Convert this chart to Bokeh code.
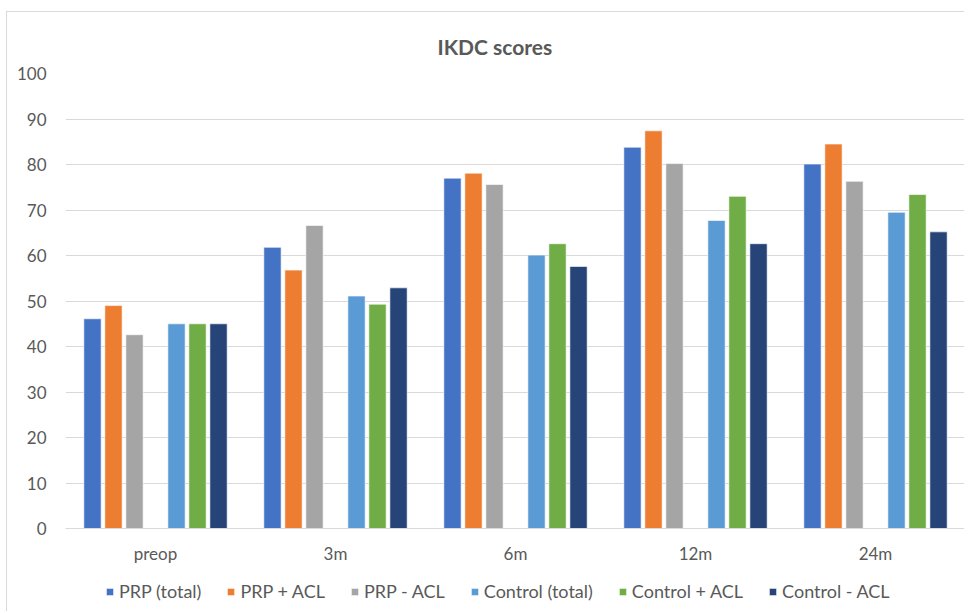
from bokeh.plotting import figure
from bokeh.models import FactorRange, Legend, LegendItem, FixedTicker, ColumnDataSource, Range1d
from bokeh.transform import dodge
from bokeh.embed import file_html
from bokeh.resources import INLINE

categories = ["preop", "3m", "6m", "12m", "24m"]
series_names = ["PRP (total)", "PRP + ACL", "PRP - ACL", "Control (total)", "Control + ACL", "Control - ACL"]
prp_total = [46.1, 61.8, 77.0, 83.8, 80.1]
prp_plus_acl = [49.0, 56.8, 78.1, 87.4, 84.5]
prp_minus_acl = [42.6, 66.6, 75.6, 80.2, 76.3]
control_total = [45.0, 51.1, 60.1, 67.7, 69.5]
control_plus_acl = [45.0, 49.3, 62.6, 73.0, 73.4]
control_minus_acl = [45.0, 52.9, 57.6, 62.6, 65.2]
y_ticks = [0, 10, 20, 30, 40, 50, 60, 70, 80, 90, 100]

colors = ["#4472C4", "#ED7D31", "#A5A5A5", "#5B9BD5", "#70AD47", "#264478"]
series_values = [prp_total, prp_plus_acl, prp_minus_acl, control_total, control_plus_acl, control_minus_acl]
slots = [0, 1, 2, 4, 5, 6]  # slot 3 is an empty gap
slot_w = 0.1167

src = ColumnDataSource(dict(cat=categories, **{f"s{i}": v for i, v in enumerate(series_values)}))

# the frame extends below 0 so that the legend (drawn inside the frame) has room
p = figure(x_range=FactorRange(*categories), y_range=Range1d(-16.9, 100), width=958, height=600,
           output_backend="svg", toolbar_location=None,
           min_border_left=58, min_border_right=0, min_border_top=61, min_border_bottom=7)
p.styles = {"margin-top": "11px", "margin-left": "6px",
            "border-top": "1px solid #d9d9d9", "border-left": "1px solid #d9d9d9"}

items = []
for i, (name, col, slot) in enumerate(zip(series_names, colors, slots)):
    r = p.vbar(x=dodge("cat", (slot - 3) * slot_w, range=p.x_range), top=f"s{i}", bottom=0,
               width=0.096, source=src, fill_color=col, line_color="white", line_width=0.6)
    items.append(LegendItem(label=name, renderers=[r]))

p.title.text = "IKDC scores"
p.title.text_font = "Lato"
p.title.text_font_style = "bold"
p.title.text_font_size = "21px"
p.title.text_color = "#595959"
p.title.align = "left"
p.title.vertical_align = "top"
p.title.offset = 372
p.title.standoff = 26

p.outline_line_color = None
p.xgrid.grid_line_color = None
p.ygrid.grid_line_color = "#d9d9d9"
p.ygrid.grid_line_width = 1
p.yaxis.ticker = FixedTicker(ticks=y_ticks)
p.yaxis.axis_line_color = None
p.yaxis.major_tick_line_color = None
p.yaxis.minor_tick_line_color = None
p.yaxis.major_label_standoff = 13
p.xaxis.fixed_location = 0
p.xaxis.axis_line_color = "#d9d9d9"
p.xaxis.major_tick_line_color = None
p.xaxis.minor_tick_line_color = None
p.xaxis.major_label_standoff = 8
for ax in (p.xaxis, p.yaxis):
    ax.major_label_text_font = "Lato"
    ax.major_label_text_font_size = "17px"
    ax.major_label_text_color = "#595959"

legend = Legend(items=items, orientation="horizontal", location=(40, 3),
                glyph_width=9, glyph_height=9, label_standoff=5, spacing=25,
                padding=0, margin=0, border_line_color=None, background_fill_alpha=0,
                label_text_font="Lato", label_text_font_size="18px", label_text_color="#595959")
p.add_layout(legend, "center")

open("out.html", "w").write(file_html(p, INLINE))
